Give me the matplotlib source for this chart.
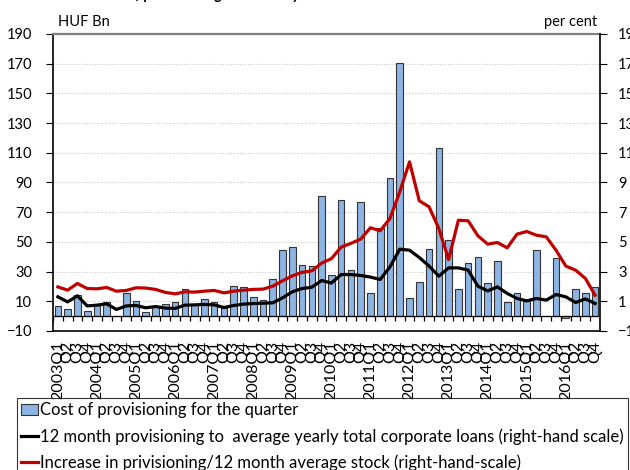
import numpy as np
import matplotlib
matplotlib.use("Agg")
import matplotlib.pyplot as plt
from matplotlib.patches import Patch
from matplotlib.lines import Line2D

plt.rcParams['font.family'] = ['Lato', 'DejaVu Sans']

years = list(range(2003, 2017))
quarters = ["Q1", "Q2", "Q3", "Q4"]
labels = [f"{y}Q1" if q == "Q1" else q for y in years for q in quarters]

# cost of provisioning for the quarter, HUF Bn (left axis)
cost = [7, 4.5, 14, 3.8, 8.3, 9.2, 0.3, 15.3,
        10.1, 2.7, 6.3, 8.5, 9.7, 18.6, 8.1, 11.7,
        9.2, 5.4, 20.4, 19.5, 12.8, 11.2, 24.9, 44.4,
        46.9, 34.5, 34, 80.8, 27.4, 78.5, 31.2, 77,
        15.3, 59.5, 93, 170.2, 11.9, 22.7, 44.9, 112.9,
        51.6, 18.4, 35.5, 40, 22, 37.3, 9.2, 15.3,
        10.5, 44.4, 0.4, 39.3, -1, 18.6, 15.3, 19.3]

# 12 month provisioning / average yearly corporate loans, per cent (right axis)
ratio_loans = [1.30, 0.96, 1.37, 0.69, 0.74, 0.83, 0.45, 0.69,
               0.72, 0.56, 0.65, 0.54, 0.52, 0.74, 0.76, 0.79,
               0.76, 0.58, 0.72, 0.81, 0.85, 0.87, 0.90, 1.23,
               1.64, 1.86, 1.95, 2.40, 2.23, 2.80, 2.80, 2.74,
               2.63, 2.47, 3.32, 4.51, 4.44, 3.95, 3.37, 2.69,
               3.25, 3.25, 3.10, 2.02, 1.70, 1.97, 1.53, 1.19,
               1.03, 1.19, 1.08, 1.46, 1.30, 0.92, 1.16, 0.85]

# increase in provisioning / 12 month average stock, per cent (right axis)
ratio_stock = [1.97, 1.75, 2.20, 1.86, 1.84, 1.93, 1.68, 1.73,
               1.91, 1.89, 1.80, 1.60, 1.50, 1.64, 1.62, 1.68,
               1.73, 1.57, 1.68, 1.75, 1.80, 1.82, 2.02, 2.38,
               2.71, 2.95, 3.05, 3.57, 3.87, 4.65, 4.90, 5.19,
               5.95, 5.75, 6.58, 8.37, 10.39, 7.77, 7.36, 5.90,
               3.81, 6.46, 6.42, 5.41, 4.85, 4.96, 4.60, 5.52,
               5.70, 5.45, 5.34, 4.44, 3.37, 3.10, 2.54, 1.41]

x = np.arange(len(labels))

fig = plt.figure(figsize=(6.3, 4.7), dpi=100)
ax = fig.add_axes([53 / 630, 1 - 331 / 470, 547 / 630, 297 / 470])

ax.bar(x, cost, width=0.68, color="#8DB4E2", edgecolor="#333333", linewidth=0.8, zorder=3)
ax.set_xlim(-0.5, len(labels) - 0.5)
ax.set_ylim(-10, 190)
ax.set_yticks(np.arange(-10, 191, 20))
ax.grid(axis="y", linestyle=(0, (1, 1.5)), color="#c8c8c8", linewidth=0.8, zorder=0)
ax.set_axisbelow(True)

# zero line with category tick marks
ax.axhline(0, color="black", linewidth=0.9, zorder=4)
ax.vlines(np.arange(len(labels) + 1) - 0.5, -3.3, 0, color="black", linewidth=0.9, zorder=4)

ax.set_xticks(x)
ax.set_xticklabels(labels, rotation=90, fontsize=11.5)
ax.tick_params(axis="x", length=0, pad=7)
ax.tick_params(axis="y", direction="out", length=5, labelsize=10.5, pad=10)

for s in ["left", "bottom"]:
    ax.spines[s].set_color("black")
    ax.spines[s].set_linewidth(1.2)
ax.spines["top"].set_color("#808080")
ax.spines["top"].set_linewidth(1.6)
ax.spines["right"].set_visible(False)

ax2 = ax.twinx()
ax2.plot(x, ratio_loans, color="black", linewidth=2.3, zorder=5)
ax2.plot(x, ratio_stock, color="#C00000", linewidth=2.3, zorder=5)
ax2.set_ylim(-1, 19)
ax2.set_yticks(np.arange(-1, 20, 2))
ax2.tick_params(axis="y", direction="out", length=5, labelsize=10.5, pad=8)
ax2.spines["right"].set_color("black")
ax2.spines["right"].set_linewidth(1.2)
for s in ["top", "left", "bottom"]:
    ax2.spines[s].set_visible(False)

fig.text(58 / 630, 1 - 22 / 470, "HUF Bn", fontsize=10.5, va="center", ha="left")
fig.text(597 / 630, 1 - 22 / 470, "per cent", fontsize=10.5, va="center", ha="right")

# title, mostly cut off by the top edge
fig.text(95 / 630, 1 + 1 / 470, "Cost of provisioning in the last year", fontsize=11,
         fontweight="bold", fontstyle="italic", va="baseline", ha="left")

handles = [Patch(facecolor="#8DB4E2", edgecolor="#333333", linewidth=0.8),
           Line2D([], [], color="black", linewidth=2.3),
           Line2D([], [], color="#C00000", linewidth=2.3)]
names = ["Cost of provisioning for the quarter",
         "12 month provisioning to  average yearly total corporate loans (right-hand scale)",
         "Increase in privisioning/12 month average stock (right-hand-scale)"]
leg = fig.legend(handles, names, loc="upper left", bbox_to_anchor=(17 / 630, 1 - 398 / 470),
                 frameon=True, fancybox=False, edgecolor="black", fontsize=12,
                 handlelength=1.0, handletextpad=0.15, borderpad=0.25, labelspacing=0.6,
                 borderaxespad=0)
leg.get_frame().set_linewidth(0.8)

fig.savefig("out.png", dpi=100)
